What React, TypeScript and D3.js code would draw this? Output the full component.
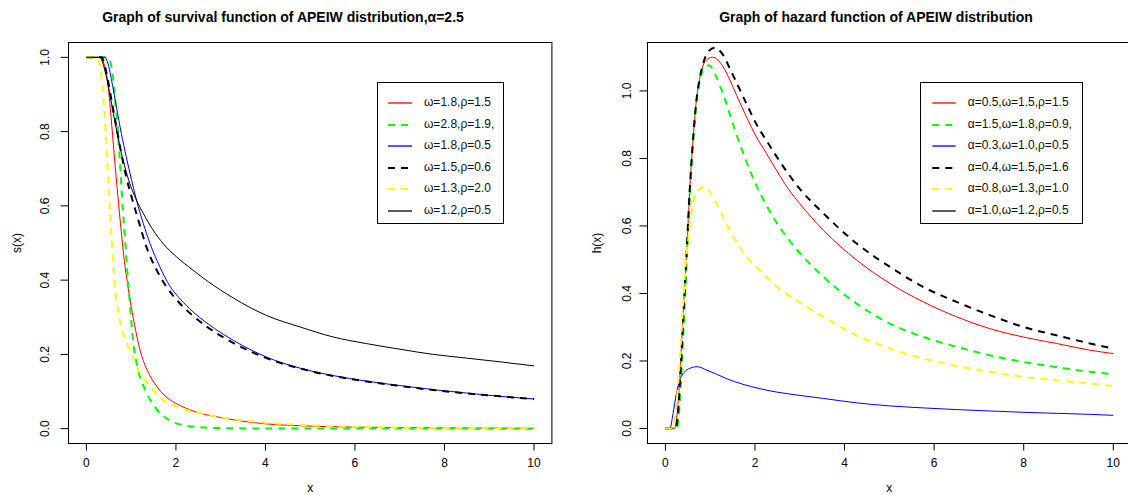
import React from 'react';
import * as d3 from 'd3';

const W = 1128;
const H = 495;
const FONT = "'Liberation Sans', Arial, Helvetica, sans-serif";

const xTicks = [0, 2, 4, 6, 8, 10];
const yTicksSurv = [0, 0.2, 0.4, 0.6, 0.8, 1.0];
const yTicksHaz = [0, 0.2, 0.4, 0.6, 0.8, 1.0];

// ---------- Survival function (left) ----------
const survRedX = [0, 0.3, 0.4, 0.48, 0.55, 0.62, 0.7, 0.78, 0.85, 0.92, 1.0, 1.1, 1.19, 1.35, 1.53, 1.7, 1.86, 2.1, 2.53, 3, 3.5, 4, 5, 6, 8, 10];
const survRedY = [1, 1, 0.98, 0.93, 0.84, 0.74, 0.63, 0.53, 0.45, 0.39, 0.33, 0.265, 0.215, 0.16, 0.121, 0.095, 0.078, 0.062, 0.042, 0.03, 0.02, 0.013, 0.007, 0.004, 0.002, 0.001];

const survGreenX = [0, 0.48, 0.56, 0.63, 0.71, 0.76, 0.8, 0.86, 0.91, 0.97, 1.04, 1.15, 1.3, 1.49, 1.71, 2.0, 2.5, 3, 4, 10];
const survGreenY = [1, 1, 0.975, 0.9, 0.79, 0.7, 0.615, 0.517, 0.43, 0.34, 0.24, 0.16, 0.108, 0.065, 0.035, 0.015, 0.004, 0.0015, 0.0005, 0];

const survBlueX = [0, 0.41, 0.5, 0.56, 0.67, 0.78, 0.89, 1.01, 1.12, 1.27, 1.42, 1.64, 1.86, 2.09, 2.38, 2.72, 3.28, 4.02, 4.77, 5.51, 6.26, 7.0, 7.75, 8.49, 9.24, 10];
const survBlueY = [1, 1, 0.975, 0.94, 0.867, 0.795, 0.732, 0.669, 0.615, 0.553, 0.499, 0.436, 0.385, 0.35, 0.315, 0.282, 0.238, 0.193, 0.163, 0.143, 0.128, 0.116, 0.105, 0.096, 0.087, 0.08];

const survBlackDashX = [0, 0.34, 0.45, 0.56, 0.67, 0.78, 0.89, 1.01, 1.16, 1.34, 1.57, 1.79, 2.09, 2.38, 2.72, 3.28, 4.02, 4.77, 5.51, 6.26, 7.0, 7.75, 8.49, 9.24, 10];
const survBlackDashY = [1, 1, 0.957, 0.885, 0.813, 0.741, 0.678, 0.624, 0.562, 0.49, 0.427, 0.382, 0.337, 0.304, 0.272, 0.231, 0.19, 0.162, 0.142, 0.127, 0.115, 0.104, 0.095, 0.087, 0.08];

const survYellowX = [0, 0.22, 0.28, 0.335, 0.41, 0.48, 0.56, 0.63, 0.72, 0.82, 0.9, 1.0, 1.15, 1.38, 1.68, 2.0, 2.53, 3, 3.5, 4, 5, 6, 8, 10];
const survYellowY = [1, 1, 0.99, 0.948, 0.84, 0.69, 0.52, 0.39, 0.31, 0.256, 0.23, 0.205, 0.16, 0.121, 0.08, 0.06, 0.042, 0.031, 0.022, 0.016, 0.009, 0.005, 0.002, 0.001];

const survBlackX = [0, 0.3, 0.41, 0.52, 0.63, 0.75, 0.86, 0.97, 1.12, 1.27, 1.49, 1.71, 2.01, 2.38, 2.72, 3.28, 4.02, 4.77, 5.51, 6.26, 7.0, 7.75, 8.49, 9.24, 10];
const survBlackY = [1, 1, 0.966, 0.903, 0.831, 0.759, 0.705, 0.66, 0.615, 0.58, 0.535, 0.499, 0.463, 0.427, 0.396, 0.352, 0.305, 0.274, 0.247, 0.229, 0.214, 0.2, 0.19, 0.18, 0.169];

const survLabels = ['ω=1.8,ρ=1.5', 'ω=2.8,ρ=1.9,', 'ω=1.8,ρ=0.5', 'ω=1.5,ρ=0.6', 'ω=1.3,ρ=2.0', 'ω=1.2,ρ=0.5'];

// ---------- Hazard function (right) ----------
const hazRedX = [0, 0.2, 0.25, 0.32, 0.39, 0.47, 0.54, 0.62, 0.69, 0.77, 0.84, 0.95, 1.05, 1.29, 1.44, 1.59, 1.81, 2.03, 2.26, 2.48, 2.78, 3.0, 3.53, 4.27, 5.01, 5.76, 6.5, 7.24, 7.99, 8.73, 9.48, 10];
const hazRedY = [0, 0, 0.03, 0.15, 0.33, 0.51, 0.7, 0.86, 0.97, 1.04, 1.075, 1.095, 1.1, 1.071, 1.032, 0.987, 0.923, 0.864, 0.814, 0.765, 0.703, 0.666, 0.587, 0.499, 0.43, 0.375, 0.331, 0.296, 0.271, 0.252, 0.232, 0.222];

const hazGreenX = [0, 0.25, 0.3, 0.37, 0.45, 0.52, 0.6, 0.69, 0.77, 0.85, 0.98, 1.14, 1.29, 1.44, 1.59, 1.81, 2.03, 2.26, 2.48, 2.78, 3.53, 4.27, 5.01, 5.76, 6.5, 7.24, 7.99, 8.73, 9.48, 10];
const hazGreenY = [0, 0, 0.04, 0.2, 0.42, 0.62, 0.82, 0.96, 1.03, 1.065, 1.076, 1.04, 0.99, 0.93, 0.87, 0.79, 0.72, 0.66, 0.61, 0.555, 0.449, 0.37, 0.311, 0.271, 0.242, 0.217, 0.197, 0.182, 0.168, 0.161];

const hazBlueX = [0, 0.1, 0.17, 0.245, 0.32, 0.43, 0.54, 0.71, 0.92, 1.14, 1.36, 1.73, 2.11, 2.48, 2.78, 3.53, 4.27, 5.01, 5.76, 6.5, 7.24, 7.99, 8.73, 9.48, 10];
const hazBlueY = [0, 0, 0.044, 0.104, 0.143, 0.168, 0.178, 0.183, 0.173, 0.161, 0.148, 0.131, 0.118, 0.108, 0.102, 0.089, 0.076, 0.067, 0.061, 0.056, 0.052, 0.048, 0.045, 0.042, 0.039];

const hazBlackDashX = [0, 0.22, 0.27, 0.33, 0.4, 0.47, 0.54, 0.62, 0.69, 0.77, 0.84, 0.95, 1.1, 1.29, 1.44, 1.59, 1.81, 2.03, 2.26, 2.48, 2.78, 3.0, 3.53, 4.27, 5.01, 5.76, 6.5, 7.24, 7.99, 8.73, 9.48, 10];
const hazBlackDashY = [0, 0, 0.03, 0.15, 0.33, 0.51, 0.7, 0.86, 0.97, 1.04, 1.08, 1.115, 1.128, 1.106, 1.066, 1.024, 0.962, 0.902, 0.852, 0.806, 0.748, 0.71, 0.637, 0.548, 0.479, 0.419, 0.375, 0.336, 0.301, 0.276, 0.252, 0.237];

const hazYellowX = [0, 0.15, 0.22, 0.3, 0.38, 0.45, 0.51, 0.58, 0.65, 0.77, 0.88, 0.99, 1.14, 1.29, 1.44, 1.66, 1.88, 2.11, 2.33, 2.55, 2.78, 3.53, 4.27, 5.01, 5.76, 6.5, 7.24, 7.99, 8.73, 9.48, 10];
const hazYellowY = [0, 0, 0.04, 0.16, 0.33, 0.48, 0.56, 0.637, 0.686, 0.711, 0.716, 0.701, 0.666, 0.627, 0.587, 0.538, 0.498, 0.469, 0.439, 0.414, 0.392, 0.331, 0.276, 0.237, 0.207, 0.185, 0.168, 0.153, 0.143, 0.133, 0.126];

const hazLabels = ['α=0.5,ω=1.5,ρ=1.5', 'α=1.5,ω=1.8,ρ=0.9,', 'α=0.3,ω=1.0,ρ=0.5', 'α=0.4,ω=1.5,ρ=1.6', 'α=0.8,ω=1.3,ρ=1.0', 'α=1.0,ω=1.2,ρ=0.5'];

const legendColors = ['#FF0000', '#00FF00', '#0000FF', '#000000', '#FFFF00', '#000000'];
const legendDashed = [false, true, false, true, true, false];

type Series = { x: number[]; y: number[]; color: string; dashed: boolean };

const survSeries: Series[] = [
  { x: survRedX, y: survRedY, color: legendColors[0], dashed: false },
  { x: survGreenX, y: survGreenY, color: legendColors[1], dashed: true },
  { x: survBlueX, y: survBlueY, color: legendColors[2], dashed: false },
  { x: survBlackDashX, y: survBlackDashY, color: legendColors[3], dashed: true },
  { x: survYellowX, y: survYellowY, color: legendColors[4], dashed: true },
  { x: survBlackX, y: survBlackY, color: legendColors[5], dashed: false },
];

const hazSeries: Series[] = [
  { x: hazRedX, y: hazRedY, color: legendColors[0], dashed: false },
  { x: hazGreenX, y: hazGreenY, color: legendColors[1], dashed: true },
  { x: hazBlueX, y: hazBlueY, color: legendColors[2], dashed: false },
  { x: hazBlackDashX, y: hazBlackDashY, color: legendColors[3], dashed: true },
  { x: hazYellowX, y: hazYellowY, color: legendColors[4], dashed: true },
];

type PanelProps = {
  id: string;
  xRange: [number, number];
  yDomain: [number, number];
  yRange: [number, number];
  yTicks: number[];
  series: Series[];
  labels: string[];
  legend: { x0: number; y0: number; x1: number; y1: number; lx0: number; lx1: number; tx: number };
  title: string;
  titleX: number;
  ylabel: string;
  ylabelX: number;
  yTickLabelX: number;
};

function Panel(p: PanelProps) {
  const x = d3.scaleLinear().domain([-0.4, 10.4]).range(p.xRange);
  const y = d3.scaleLinear().domain(p.yDomain).range(p.yRange);
  const line = d3
    .line<[number, number]>()
    .x((d) => x(d[0]))
    .y((d) => y(d[1]))
    .curve(d3.curveMonotoneX);
  const [left, right] = p.xRange;
  const [bottom, top] = p.yRange;
  const tick = 7;
  const fmt = d3.format('.1f');
  const cx = (left + right) / 2;
  return (
    <g>
      <defs>
        <clipPath id={`clip-${p.id}`}>
          <rect x={left} y={top} width={right - left} height={bottom - top} />
        </clipPath>
      </defs>
      <text x={p.titleX} y={22} textAnchor="middle" fontSize={14} fontWeight="bold" fontFamily={FONT}>
        {p.title}
      </text>
      <g clipPath={`url(#clip-${p.id})`}>
        {p.series.map((s, i) => (
          <path
            key={i}
            d={line(s.x.map((v, j) => [v, s.y[j]] as [number, number])) || ''}
            fill="none"
            stroke={s.color}
            strokeWidth={s.dashed ? 2 : 1}
            strokeDasharray={s.dashed ? '7,6' : undefined}
          />
        ))}
      </g>
      <rect x={left} y={top} width={right - left} height={bottom - top} fill="none" stroke="#000" strokeWidth={1} />
      {xTicks.map((t) => (
        <g key={`xt${t}`}>
          <line x1={x(t)} x2={x(t)} y1={bottom} y2={bottom + tick} stroke="#000" />
          <text x={x(t)} y={467} textAnchor="middle" fontSize={12} fontFamily={FONT}>
            {t}
          </text>
        </g>
      ))}
      {p.yTicks.map((t) => (
        <g key={`yt${t}`}>
          <line x1={left - tick - 1} x2={left} y1={y(t)} y2={y(t)} stroke="#000" />
          <text
            transform={`translate(${p.yTickLabelX},${y(t)}) rotate(-90)`}
            textAnchor="middle"
            dominantBaseline="central"
            fontSize={12}
            fontFamily={FONT}
          >
            {fmt(t)}
          </text>
        </g>
      ))}
      <text x={cx} y={492} textAnchor="middle" fontSize={12} fontFamily={FONT}>
        x
      </text>
      <text
        transform={`translate(${p.ylabelX},${(top + bottom) / 2}) rotate(-90)`}
        textAnchor="middle"
        dominantBaseline="central"
        fontSize={12}
        fontFamily={FONT}
      >
        {p.ylabel}
      </text>
      <rect
        x={p.legend.x0}
        y={p.legend.y0}
        width={p.legend.x1 - p.legend.x0}
        height={p.legend.y1 - p.legend.y0}
        fill="#fff"
        stroke="#000"
        strokeWidth={1}
      />
      {p.labels.map((lab, i) => {
        const ly = Math.round(p.legend.y0 + 20.8 + i * 21.5);
        return (
          <g key={`lg${i}`}>
            <line
              x1={p.legend.lx0}
              x2={p.legend.lx1}
              y1={ly}
              y2={ly}
              stroke={legendColors[i]}
              strokeWidth={legendDashed[i] ? 2 : 1.3}
              strokeDasharray={legendDashed[i] ? '7,6' : undefined}
            />
            <text x={p.legend.tx} y={ly - 1} dominantBaseline="central" fontSize={12} fontFamily={FONT} fill="#111">
              {lab}
            </text>
          </g>
        );
      })}
    </g>
  );
}

export default function App() {
  return (
    <svg width={W} height={H} style={{ position: 'absolute', left: 0, top: 0, background: '#fff' }}>
      <rect x={0} y={0} width={W} height={H} fill="#fff" />
      <Panel
        id="surv"
        xRange={[68.5, 551.9]}
        yDomain={[-0.04, 1.04]}
        yRange={[443.5, 42.5]}
        yTicks={yTicksSurv}
        series={survSeries}
        labels={survLabels}
        legend={{ x0: 377.5, y0: 82.5, x1: 503.5, y1: 223.5, lx0: 388, lx1: 412, tx: 424 }}
        title="Graph of survival function of APEIW distribution,α=2.5"
        titleX={283}
        ylabel="s(x)"
        ylabelX={17}
        yTickLabelX={45}
      />
      <Panel
        id="haz"
        xRange={[647.5, 1131.2]}
        yDomain={[-0.0444, 1.1434]}
        yRange={[443.5, 42.5]}
        yTicks={yTicksHaz}
        series={hazSeries}
        labels={hazLabels}
        legend={{ x0: 920.5, y0: 82.5, x1: 1082.5, y1: 223.5, lx0: 932.3, lx1: 955.7, tx: 967.7 }}
        title="Graph of hazard function of APEIW distribution"
        titleX={876}
        ylabel="h(x)"
        ylabelX={597}
        yTickLabelX={627}
      />
    </svg>
  );
}
